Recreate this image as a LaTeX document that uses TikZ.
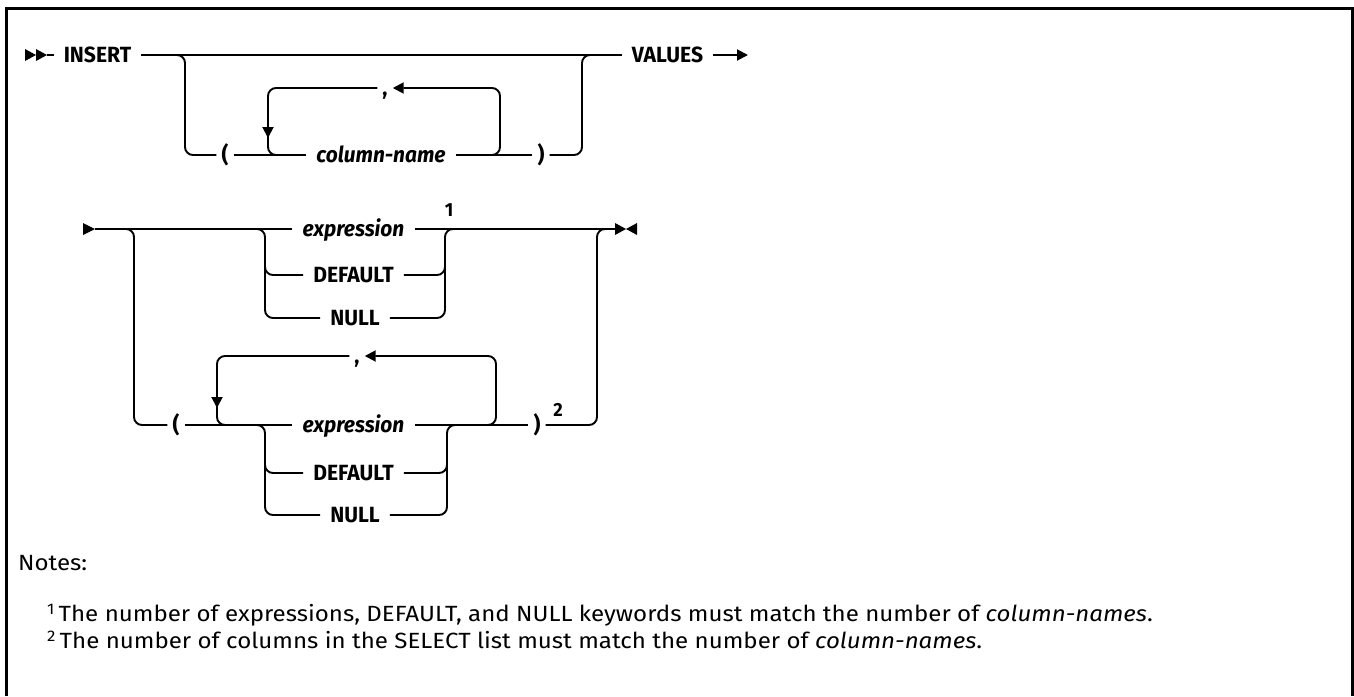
\documentclass[tikz,border=0pt]{standalone}
\usepackage{fontspec}
\setmainfont{Fira Sans}
\newfontfamily\kwfont[FakeStretch=0.96]{Fira Sans}
\newfontfamily\varfont[FakeStretch=0.95]{Fira Sans}
\newfontfamily\notefont[FakeStretch=1.095]{Fira Sans}
\usetikzlibrary{arrows.meta}
\begin{document}
\begin{tikzpicture}[x=1pt,y=-1pt,
  rail/.style={line width=1.9pt, rounded corners=8pt},
  railarrow/.style={rail, -{Triangle[length=11pt,width=11pt]}},
  kw/.style={font=\kwfont\fontsize{22}{26}\selectfont\bfseries, inner xsep=10pt, inner ysep=0pt, text height=15pt, text depth=0pt},
  var/.style={kw, font=\varfont\fontsize{22}{26}\selectfont\bfseries\itshape},
  punct/.style={kw, inner xsep=5pt},
  supnum/.style={font=\kwfont\fontsize{19}{22}\selectfont\bfseries, inner sep=0pt},
  note/.style={font=\notefont\fontsize{22}{26}\selectfont, inner sep=0pt, anchor=west},
  marker/.style={fill=black}]
\useasboundingbox (0,0) rectangle (1354,696);
% frame
\draw[line width=3pt] (6,696) -- (6,8) -- (1352,8) -- (1352,696);

% ---------- row 1 ----------
\fill[marker] (25,49) -- (36,55) -- (25,61) -- cycle;
\fill[marker] (36,49) -- (47,55) -- (36,61) -- cycle;
\coordinate (s1) at (47,55);
\node[kw] (insert) at (97.5,55) {INSERT};
\node[kw] (values) at (667.5,55) {VALUES};
\node[punct] (lp1) at (225,155) {(};
\node[var] (colname) at (381,155) {column-name};
\node[punct] (rp1) at (541,155) {)};
\node[punct] (comma1) at (385,88) {,};
\coordinate (e1) at (748,55);

\draw[rail] (s1) -- (insert.west);
\draw[rail] (insert.east) -- (values.west);
\draw[railarrow] (values.east) -- (e1);
\draw[rail] (170,55) -- (185,55) -- (185,155) -- (lp1.west);
\draw[rail] (lp1.east) -- (colname.west);
\draw[rail] (colname.east) -- (rp1.west);
\draw[rail] (rp1.east) -- (582,155) -- (582,55) -- (597,55);
\draw[railarrow] (comma1.west) -- (268,88) -- (268,138);
\draw[rail] (268,130) -- (268,155) -- (285,155);
\draw[railarrow] (485,155) -- (500,155) -- (500,88) -- (comma1.east);

% ---------- row 2 ----------
\fill[marker] (83,223) -- (95,229) -- (83,235) -- cycle;
\coordinate (s2) at (95,229);
\node[var] (expr1) at (353.5,229) {expression};
\node[kw] (def1) at (353.5,275) {DEFAULT};
\node[kw] (null1) at (355,318) {NULL};
\node[supnum] (n1) at (449,210) {1};
\coordinate (e2) at (615,229);
\fill[marker] (615,223) -- (626,229) -- (615,235) -- cycle;
\fill[marker] (637,223) -- (626,229) -- (637,235) -- cycle;

\draw[rail] (s2) -- (expr1.west);
\draw[rail] (expr1.east) -- (e2);
\draw[rail] (250,229) -- (265,229) -- (265,318) -- (null1.west);
\draw[rail] (265,260) -- (265,275) -- (def1.west);
\draw[rail] (null1.east) -- (445,318) -- (445,229) -- (460,229);
\draw[rail] (def1.east) -- (445,275) -- (445,260);

\node[punct] (lp2) at (176,425) {(};
\node[var] (expr2) at (353.5,425) {expression};
\node[kw] (def2) at (353.5,473) {DEFAULT};
\node[kw] (null2) at (355,515) {NULL};
\node[punct] (rp2) at (537,425) {)};
\node[supnum] (n2) at (558,410) {2};
\node[punct] (comma2) at (357,356) {,};

\draw[rail] (120,229) -- (134,229) -- (134,425) -- (lp2.west);
\draw[rail] (lp2.east) -- (expr2.west);
\draw[rail] (expr2.east) -- (rp2.west);
\draw[rail] (rp2.east) -- (597,425) -- (597,229) -- (612,229);
\draw[railarrow] (comma2.west) -- (217,356) -- (217,408);
\draw[rail] (217,400) -- (217,425) -- (235,425);
\draw[railarrow] (480,425) -- (496,425) -- (496,356) -- (comma2.east);
\draw[rail] (250,425) -- (265,425) -- (265,515) -- (null2.west);
\draw[rail] (265,460) -- (265,473) -- (def2.west);
\draw[rail] (null2.east) -- (447,515) -- (447,425) -- (462,425);
\draw[rail] (def2.east) -- (447,473) -- (447,460);

% ---------- notes ----------
\node[note] (notes) at (18,563) {Notes:};
\node[note] (note1) at (47,615) {\textsuperscript{1}\,The number of expressions, DEFAULT, and NULL keywords must match the number of \textit{column-names}.};
\node[note] (note2) at (47,640) {\textsuperscript{2}\,The number of columns in the SELECT list must match the number of \textit{column-names}.};
\end{tikzpicture}
\end{document}
